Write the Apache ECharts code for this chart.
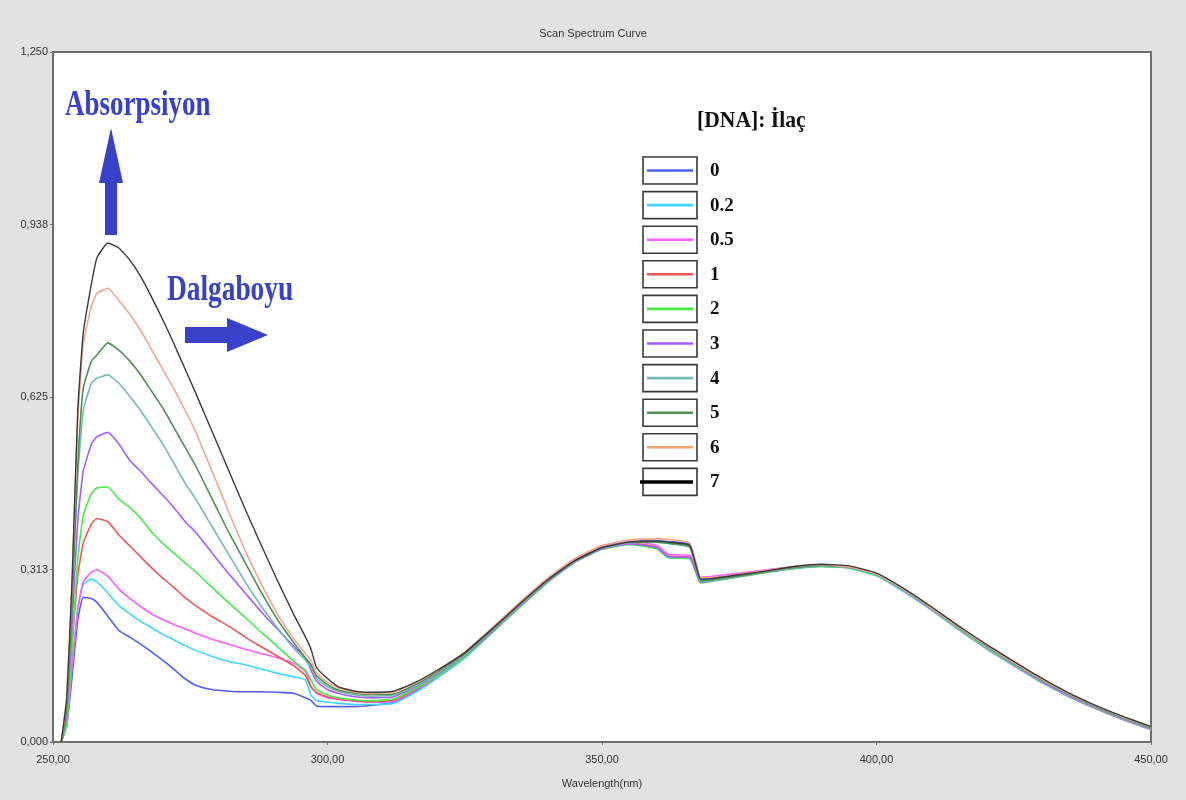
<!DOCTYPE html>
<html>
<head>
<meta charset="utf-8">
<script src="https://cdn.jsdelivr.net/npm/echarts@6/dist/echarts.min.js"></script>
<style>
html,body{margin:0;padding:0;background:#e2e2e2;}
#chart{width:1186px;height:800px;}
</style>
</head>
<body>
<div id="chart"></div>
<script>
// Wavelength grid (nm)
const wavelengths = [251.5, 252.5, 253.5, 254.5, 255.5, 257, 258, 260, 262, 264, 266, 268, 270, 272, 274, 276, 279, 282, 285, 288, 291, 294, 296, 297, 298, 300, 302, 305, 308,
  312, 316, 320, 325, 330, 335, 340, 345, 350, 355, 360, 362, 366, 368, 370, 375, 380, 385, 390, 395, 400, 405, 410, 415, 420, 425, 430, 435, 440, 445, 450];

// Absorbance values per [DNA]:İlaç ratio
const abs0 = [0, 0.03, 0.12, 0.22, 0.262, 0.26, 0.253, 0.228, 0.202, 0.19, 0.177, 0.163, 0.148, 0.132, 0.115, 0.103, 0.095, 0.092, 0.091, 0.091, 0.09, 0.088, 0.08, 0.075, 0.065, 0.064, 0.064, 0.064, 0.066,
  0.072, 0.092, 0.117, 0.153, 0.199, 0.247, 0.291, 0.328, 0.352, 0.362, 0.364, 0.363, 0.358, 0.296, 0.297, 0.303, 0.31, 0.316, 0.319, 0.316, 0.302, 0.273, 0.24, 0.204, 0.17, 0.139, 0.109, 0.083, 0.061, 0.041, 0.024];
const abs02 = [0, 0.04, 0.14, 0.24, 0.285, 0.295, 0.29, 0.27, 0.247, 0.232, 0.218, 0.207, 0.195, 0.185, 0.175, 0.166, 0.155, 0.146, 0.14, 0.132, 0.124, 0.118, 0.112, 0.085, 0.075, 0.072, 0.07, 0.068, 0.068,
  0.07, 0.09, 0.116, 0.152, 0.198, 0.246, 0.291, 0.328, 0.353, 0.362, 0.362, 0.36, 0.354, 0.293, 0.295, 0.302, 0.309, 0.315, 0.318, 0.315, 0.301, 0.272, 0.239, 0.203, 0.169, 0.138, 0.108, 0.082, 0.06, 0.04, 0.023];
const abs05 = [0, 0.03, 0.14, 0.24, 0.29, 0.308, 0.312, 0.3, 0.277, 0.26, 0.245, 0.232, 0.222, 0.213, 0.205, 0.197, 0.186, 0.177, 0.168, 0.16, 0.152, 0.142, 0.128, 0.1, 0.088, 0.08, 0.077, 0.074, 0.072,
  0.074, 0.094, 0.119, 0.155, 0.201, 0.249, 0.294, 0.331, 0.355, 0.364, 0.356, 0.34, 0.338, 0.298, 0.3, 0.306, 0.312, 0.318, 0.321, 0.317, 0.303, 0.274, 0.24, 0.204, 0.17, 0.139, 0.109, 0.083, 0.06, 0.04, 0.022];
const abs1 = [0, 0.04, 0.18, 0.3, 0.36, 0.395, 0.405, 0.399, 0.375, 0.355, 0.335, 0.315, 0.297, 0.28, 0.262, 0.247, 0.227, 0.21, 0.19, 0.172, 0.155, 0.137, 0.12, 0.1, 0.09, 0.082, 0.078, 0.075, 0.073,
  0.076, 0.096, 0.12, 0.155, 0.2, 0.247, 0.291, 0.328, 0.352, 0.361, 0.353, 0.337, 0.335, 0.291, 0.293, 0.301, 0.309, 0.316, 0.32, 0.317, 0.304, 0.276, 0.243, 0.207, 0.173, 0.142, 0.112, 0.086, 0.063, 0.043, 0.025];
const abs2 = [0, 0.03, 0.18, 0.33, 0.41, 0.45, 0.46, 0.462, 0.44, 0.425, 0.405, 0.38, 0.36, 0.342, 0.325, 0.308, 0.28, 0.252, 0.226, 0.198, 0.172, 0.145, 0.13, 0.112, 0.095, 0.085, 0.08, 0.076, 0.075,
  0.078, 0.097, 0.12, 0.154, 0.198, 0.244, 0.288, 0.325, 0.349, 0.358, 0.35, 0.334, 0.332, 0.288, 0.291, 0.299, 0.307, 0.314, 0.318, 0.315, 0.302, 0.274, 0.241, 0.205, 0.171, 0.14, 0.11, 0.084, 0.061, 0.041, 0.023];
const abs3 = [0, 0.05, 0.22, 0.4, 0.49, 0.54, 0.553, 0.561, 0.54, 0.51, 0.49, 0.468, 0.447, 0.425, 0.4, 0.38, 0.342, 0.305, 0.27, 0.235, 0.203, 0.172, 0.152, 0.13, 0.11, 0.095, 0.088, 0.082, 0.08,
  0.082, 0.1, 0.123, 0.157, 0.2, 0.246, 0.29, 0.326, 0.35, 0.359, 0.352, 0.336, 0.334, 0.289, 0.292, 0.3, 0.308, 0.315, 0.319, 0.316, 0.303, 0.275, 0.242, 0.207, 0.173, 0.141, 0.111, 0.085, 0.062, 0.042, 0.024];
const abs4 = [0, 0.06, 0.26, 0.48, 0.6, 0.65, 0.659, 0.665, 0.65, 0.626, 0.6, 0.57, 0.54, 0.505, 0.47, 0.44, 0.39, 0.34, 0.29, 0.245, 0.205, 0.168, 0.148, 0.135, 0.115, 0.1, 0.092, 0.085, 0.083,
  0.085, 0.102, 0.125, 0.158, 0.202, 0.248, 0.292, 0.328, 0.352, 0.361, 0.362, 0.36, 0.352, 0.29, 0.292, 0.3, 0.308, 0.315, 0.319, 0.316, 0.303, 0.275, 0.242, 0.207, 0.173, 0.142, 0.112, 0.086, 0.063, 0.043, 0.025];
const abs5 = [0, 0.06, 0.26, 0.5, 0.64, 0.69, 0.701, 0.723, 0.71, 0.69, 0.665, 0.635, 0.605, 0.57, 0.535, 0.5, 0.44, 0.38, 0.325, 0.27, 0.22, 0.178, 0.152, 0.14, 0.12, 0.104, 0.094, 0.088, 0.086,
  0.087, 0.104, 0.127, 0.16, 0.204, 0.25, 0.293, 0.329, 0.353, 0.362, 0.362, 0.36, 0.354, 0.292, 0.294, 0.301, 0.309, 0.316, 0.32, 0.317, 0.304, 0.276, 0.243, 0.208, 0.174, 0.143, 0.113, 0.087, 0.064, 0.044, 0.026];
const abs6 = [0, 0.08, 0.3, 0.58, 0.72, 0.79, 0.813, 0.822, 0.8, 0.775, 0.745, 0.71, 0.675, 0.64, 0.602, 0.562, 0.49, 0.417, 0.347, 0.285, 0.23, 0.185, 0.16, 0.148, 0.125, 0.108, 0.098, 0.09, 0.088,
  0.09, 0.107, 0.13, 0.163, 0.207, 0.253, 0.296, 0.332, 0.356, 0.366, 0.368, 0.367, 0.36, 0.298, 0.298, 0.304, 0.311, 0.318, 0.321, 0.317, 0.304, 0.276, 0.243, 0.208, 0.175, 0.144, 0.114, 0.088, 0.065, 0.045, 0.027];
const abs7 = [0, 0.08, 0.3, 0.6, 0.74, 0.83, 0.877, 0.904, 0.895, 0.873, 0.843, 0.805, 0.765, 0.722, 0.677, 0.632, 0.562, 0.492, 0.422, 0.355, 0.29, 0.228, 0.19, 0.168, 0.135, 0.115, 0.1, 0.092, 0.09,
  0.092, 0.108, 0.13, 0.162, 0.205, 0.25, 0.293, 0.328, 0.352, 0.362, 0.364, 0.362, 0.356, 0.295, 0.296, 0.303, 0.31, 0.318, 0.322, 0.319, 0.306, 0.278, 0.245, 0.21, 0.177, 0.146, 0.116, 0.089, 0.066, 0.046, 0.028];

const seriesNames = ['0', '0.2', '0.5', '1', '2', '3', '4', '5', '6', '7'];
const seriesValues = [abs0, abs02, abs05, abs1, abs2, abs3, abs4, abs5, abs6, abs7];
const seriesColors = ['#5262f2', '#3fd6ff', '#ff5cff', '#f25757', '#46ec46', '#a95cff', '#72bab4', '#4f9157', '#f9a48c', '#3a3a3a'];

const titleText = 'Scan Spectrum Curve';
const xAxisName = 'Wavelength(nm)';
const legendTitle = '[DNA]: İlaç';

const chart = echarts.init(document.getElementById('chart'), null, {renderer: 'canvas'});

const series = seriesValues.map((vals, k) => ({
  name: seriesNames[k],
  type: 'line',
  data: wavelengths.map((w, i) => [w, vals[i]]),
  showSymbol: false,
  symbol: 'none',
  smooth: 0.15,
  clip: true,
  lineStyle: {color: seriesColors[k], width: k === 9 ? 1.4 : 1.6},
  itemStyle: {color: seriesColors[k]},
  z: 2 + k
}));

const blue = '#3841c8';
const serif = '"Liberation Serif", "DejaVu Serif", serif';
const graphics = [
  {type: 'text', x: 65, y: 106, scaleX: 0.75, style: {text: 'Absorpsiyon', font: 'bold 36px ' + serif, fill: blue, verticalAlign: 'middle', align: 'left'}, z: 100},
  {type: 'polygon', shape: {points: [[105, 235], [117, 235], [117, 183], [123, 183], [111, 128], [99, 183], [105, 183]]}, style: {fill: blue}, z: 100},
  {type: 'text', x: 167, y: 291, scaleX: 0.76, style: {text: 'Dalgaboyu', font: 'bold 36px ' + serif, fill: blue, verticalAlign: 'middle', align: 'left'}, z: 100},
  {type: 'polygon', shape: {points: [[185, 327], [227, 327], [227, 318], [268, 335], [227, 352], [227, 343], [185, 343]]}, style: {fill: blue}, z: 100},
  {type: 'text', x: 697, y: 121, scaleX: 0.9, style: {text: legendTitle, font: 'bold 24px ' + serif, fill: '#111', verticalAlign: 'middle', align: 'left'}, z: 100}
];
seriesNames.forEach((nm, k) => {
  const top = 157 + k * 34.6;
  graphics.push({type: 'rect', shape: {x: 643, y: top, width: 54, height: 27}, style: {fill: '#fff', stroke: '#3a3a3a', lineWidth: 1.6}, z: 100});
  graphics.push({type: 'line', shape: {x1: k === 9 ? 640 : 647, y1: top + 13.5, x2: 693, y2: top + 13.5}, style: {stroke: k === 9 ? '#000' : (k === 8 ? '#f4a070' : seriesColors[k]), lineWidth: k === 9 ? 3.5 : 2.6}, z: 101});
  graphics.push({type: 'text', x: 710, y: top + 14, style: {text: nm, font: 'bold 19px ' + serif, fill: '#111', verticalAlign: 'middle', align: 'left'}, z: 100});
});

const sans = '"Liberation Sans", Arial, sans-serif';
chart.setOption({
  animation: false,
  backgroundColor: '#e2e2e2',
  title: {text: titleText, left: 'center', top: 23, textStyle: {fontSize: 11, fontWeight: 'normal', color: '#333', fontFamily: sans}},
  grid: {left: 53, right: 35, top: 52, bottom: 58, show: true, backgroundColor: '#ffffff', borderColor: '#6e6e6e', borderWidth: 2},
  xAxis: {
    type: 'value', min: 250, max: 450, interval: 50,
    name: xAxisName, nameLocation: 'middle', nameGap: 36,
    nameTextStyle: {fontSize: 11, color: '#333', fontFamily: sans},
    axisLine: {show: true, lineStyle: {color: '#6e6e6e', width: 2}},
    axisTick: {show: true, length: 3, lineStyle: {color: '#6e6e6e'}},
    splitLine: {show: false},
    axisLabel: {fontSize: 11, color: '#333', fontFamily: sans, margin: 12, formatter: v => v.toFixed(2).replace('.', ',')}
  },
  yAxis: {
    type: 'value', min: 0, max: 1.25, interval: 0.3125,
    axisLine: {show: true, lineStyle: {color: '#6e6e6e', width: 2}},
    axisTick: {show: true, length: 3, lineStyle: {color: '#6e6e6e'}},
    splitLine: {show: false},
    axisLabel: {fontSize: 11, color: '#333', fontFamily: sans, margin: 5, formatter: v => v.toFixed(3).replace('.', ',')}
  },
  series: series,
  graphic: graphics
});
</script>
</body>
</html>
